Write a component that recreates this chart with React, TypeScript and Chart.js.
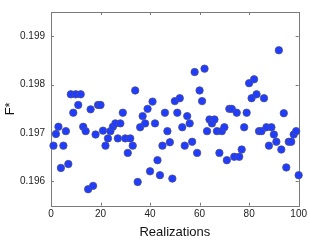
import React, { useEffect, useRef } from "react";
import { Chart, registerables } from "chart.js";

Chart.register(...registerables);

const realizations: number[] = Array.from({ length: 100 }, (_, i) => i + 1);

const fStar: number[] = [
  0.19674, 0.19698, 0.19713, 0.19628, 0.19674, 0.19704, 0.19636, 0.1978, 0.19742, 0.1978,
  0.19758, 0.1978, 0.19713, 0.19704, 0.19584, 0.19749, 0.19591, 0.19697, 0.19758, 0.19758,
  0.19705, 0.19674, 0.19689, 0.19704, 0.19713, 0.1972, 0.19689, 0.1972, 0.19742, 0.19689,
  0.19659, 0.19689, 0.19674, 0.19788, 0.19599, 0.19712, 0.19735, 0.1972, 0.1975, 0.19621,
  0.19765, 0.1972, 0.19644, 0.19613, 0.19674, 0.19742, 0.19704, 0.19681, 0.19606, 0.19766,
  0.19742, 0.19772, 0.19712, 0.19674, 0.19735, 0.1972, 0.19682, 0.19826, 0.19659, 0.19788,
  0.19766, 0.19833, 0.19704, 0.19728, 0.1972, 0.19728, 0.19704, 0.19659, 0.19704, 0.19712,
  0.19644, 0.1975, 0.1975, 0.19651, 0.19742, 0.19651, 0.19666, 0.19712, 0.19742, 0.19803,
  0.19772, 0.19811, 0.1978, 0.19704, 0.19704, 0.19772, 0.19712, 0.19674, 0.19712, 0.19697,
  0.19682, 0.19871, 0.19666, 0.19741, 0.19629, 0.19682, 0.19682, 0.19697, 0.19704, 0.19613,
];

const xTicks: number[] = [0, 20, 40, 60, 80, 100];
const yTicks: number[] = [0.196, 0.197, 0.198, 0.199];

const FONT = "'Liberation Sans', Arial, sans-serif";

const framePlugin = {
  id: "frame",
  beforeDatasetsDraw(chart: any) {
    const { ctx, chartArea } = chart;
    const { left, right, top, bottom } = chartArea;
    const xs = chart.scales.x;
    const ys = chart.scales.y;
    ctx.save();
    ctx.strokeStyle = "#7a7a7a";
    ctx.lineWidth = 1;
    ctx.strokeRect(Math.round(left) + 0.5, Math.round(top) + 0.5, Math.round(right - left), Math.round(bottom - top));
    const tl = 3;
    ctx.beginPath();
    xTicks.forEach((v) => {
      const px = Math.round(xs.getPixelForValue(v)) + 0.5;
      ctx.moveTo(px, bottom);
      ctx.lineTo(px, bottom - tl);
      ctx.moveTo(px, top);
      ctx.lineTo(px, top + tl);
    });
    yTicks.forEach((v) => {
      const py = Math.round(ys.getPixelForValue(v)) + 0.5;
      ctx.moveTo(left, py);
      ctx.lineTo(left + tl, py);
      ctx.moveTo(right, py);
      ctx.lineTo(right - tl, py);
    });
    ctx.stroke();
    ctx.restore();
  },
};

export default function App() {
  const ref = useRef<HTMLCanvasElement | null>(null);
  useEffect(() => {
    if (!ref.current) return;
    const chart = new Chart(ref.current, {
      type: "scatter",
      data: {
        datasets: [
          {
            data: realizations.map((r, i) => ({ x: r, y: fStar[i] })),
            backgroundColor: "#1f3cff",
            borderColor: "#4a4f8a",
            borderWidth: 0.8,
            pointRadius: 3.7,
            clip: false as any,
          },
        ],
      },
      options: {
        animation: false,
        responsive: false,
        devicePixelRatio: 1,
        layout: { padding: { top: 10, right: 11.3, left: 0, bottom: 0 } },
        plugins: { legend: { display: false }, tooltip: { enabled: false } },
        scales: {
          x: {
            type: "linear",
            min: 0,
            max: 100,
            border: { display: false },
            grid: { display: false, drawTicks: false },
            afterBuildTicks: (s: any) => {
              s.ticks = xTicks.map((v) => ({ value: v }));
            },
            afterFit: (s: any) => {
              s.height = 36.3;
            },
            ticks: {
              padding: 3,
              color: "#222",
              font: { family: FONT, size: 10 },
              maxRotation: 0,
              callback: (v: any) => String(v),
            },
            title: {
              display: true,
              text: "Realizations",
              color: "#111",
              font: { family: FONT, size: 13 },
              padding: { top: 0, bottom: 1.5 },
            },
          },
          y: {
            type: "linear",
            min: 0.1955,
            max: 0.1995,
            border: { display: false },
            grid: { display: false, drawTicks: false },
            afterBuildTicks: (s: any) => {
              s.ticks = yTicks.map((v) => ({ value: v }));
            },
            afterFit: (s: any) => {
              s.width = 51;
            },
            ticks: {
              padding: 6,
              color: "#222",
              font: { family: FONT, size: 10 },
              callback: (v: any) => Number(v).toFixed(3),
            },
            title: {
              display: true,
              text: "F*",
              color: "#111",
              font: { family: FONT, size: 13 },
              padding: { top: 2.2, bottom: 0 },
            },
          },
        },
      },
      plugins: [framePlugin],
    });
    return () => chart.destroy();
  }, []);
  return (
    <div style={{ position: "fixed", left: 0, top: 0, width: 310, height: 242, background: "#fff" }}>
      <canvas ref={ref} width={310} height={242} style={{ width: 310, height: 242 }} />
    </div>
  );
}
